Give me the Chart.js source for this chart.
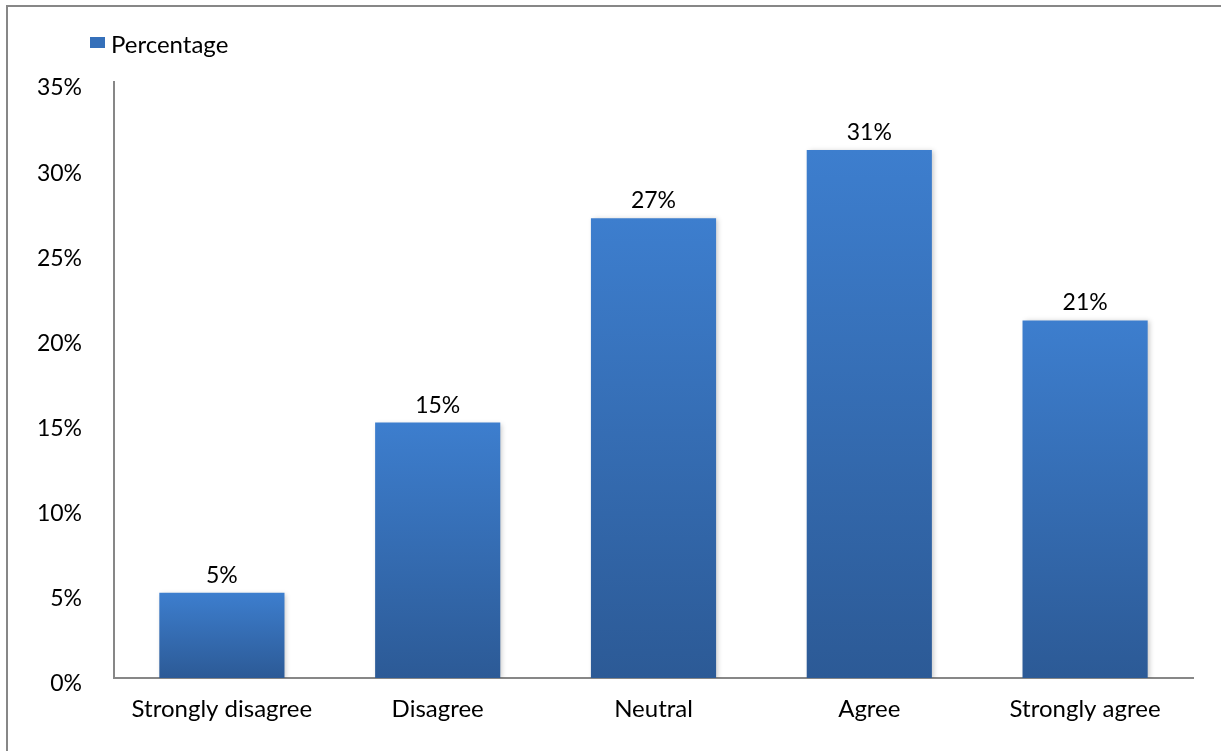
<!DOCTYPE html>
<html>
<head>
<meta charset="utf-8">
<script src="https://cdn.jsdelivr.net/npm/chart.js@4"></script>
<style>
  html, body { margin: 0; padding: 0; background: #fff; overflow: hidden; }
  #frame {
    position: absolute; left: 6px; top: 5px; width: 1400px; height: 900px;
    border-top: 2px solid #878787; border-left: 2px solid #878787;
  }
  #wrap { position: absolute; left: 0; top: 0; width: 1221px; height: 751px; }
</style>
</head>
<body>
<div id="frame"></div>
<div id="wrap"><canvas id="chart"></canvas></div>
<script>
// Chart data
const categories = ['Strongly disagree', 'Disagree', 'Neutral', 'Agree', 'Strongly agree'];
const percentages = [5, 15, 27, 31, 21];
const seriesLabel = 'Percentage';
const yTicks = [0, 5, 10, 15, 20, 25, 30, 35];

const FONT = 'Lato';
const TOP_COLOR = '#3D7ECE';
const BOTTOM_COLOR = '#2C5A96';
const AXIS_COLOR = '#878787';

// vertical gradient per bar, from its own top to the baseline
function barGradient(ctx) {
  const chart = ctx.chart;
  const y = chart.scales.y;
  if (!chart.chartArea || !y) return TOP_COLOR;
  const top = y.getPixelForValue(ctx.raw);
  const bottom = y.getPixelForValue(0);
  const g = chart.ctx.createLinearGradient(0, top, 0, bottom);
  g.addColorStop(0, TOP_COLOR);
  g.addColorStop(1, BOTTOM_COLOR);
  return g;
}

// Legend in the top-left corner
const legendPlugin = {
  id: 'cornerLegend',
  afterDraw(chart) {
    const ctx = chart.ctx;
    ctx.save();
    ctx.fillStyle = '#3570BA';
    ctx.fillRect(90, 37, 15, 11);
    ctx.fillStyle = '#000';
    ctx.font = '24px ' + FONT;
    ctx.textBaseline = 'alphabetic';
    ctx.textAlign = 'left';
    ctx.fillText(chart.data.datasets[0].label, 111, 53);
    ctx.restore();
  }
};

// Value labels above the bars + soft shadow
const valuePlugin = {
  id: 'valueLabels',
  beforeDatasetsDraw(chart) {
    const ctx = chart.ctx;
    ctx.save();
    ctx.shadowColor = 'rgba(0,0,0,0.22)';
    ctx.shadowBlur = 5;
    ctx.shadowOffsetX = 2;
    ctx.shadowOffsetY = 1;
  },
  afterDatasetsDraw(chart) {
    const ctx = chart.ctx;
    ctx.restore();
    ctx.save();
    ctx.fillStyle = '#000';
    ctx.font = '23px ' + FONT;
    ctx.textAlign = 'center';
    ctx.textBaseline = 'alphabetic';
    const meta = chart.getDatasetMeta(0);
    meta.data.forEach((bar, i) => {
      ctx.fillText(chart.data.datasets[0].data[i] + '%', bar.x, bar.y - 10);
    });
    ctx.restore();
  }
};

new Chart(document.getElementById('chart'), {
  type: 'bar',
  data: {
    labels: categories,
    datasets: [{
      label: seriesLabel,
      data: percentages,
      backgroundColor: barGradient,
      borderWidth: 0,
      categoryPercentage: 1,
      barPercentage: 0.58
    }]
  },
  options: {
    responsive: true,
    maintainAspectRatio: false,
    animation: false,
    devicePixelRatio: 1,
    layout: { padding: { left: 0, right: 28, top: 82, bottom: 0 } },
    plugins: {
      legend: { display: false },
      tooltip: { enabled: false }
    },
    scales: {
      x: {
        grid: { display: false, drawTicks: false },
        border: { display: true, color: AXIS_COLOR, width: 2 },
        ticks: { color: '#000', font: { family: FONT, size: 24 }, padding: 17, maxRotation: 0 },
        afterFit(scale) { scale.height = 73; }
      },
      y: {
        min: 0,
        max: 35,
        afterBuildTicks(scale) { scale.ticks = yTicks.map(v => ({ value: v })); },
        grid: { display: false, drawTicks: false },
        border: { display: true, color: AXIS_COLOR, width: 2 },
        ticks: {
          color: '#000',
          font: { family: FONT, size: 23 },
          padding: 32,
          labelOffset: 6,
          callback: v => v + '%'
        },
        afterFit(scale) { scale.width = 114; }
      }
    }
  },
  plugins: [legendPlugin, valuePlugin]
});
</script>
</body>
</html>
